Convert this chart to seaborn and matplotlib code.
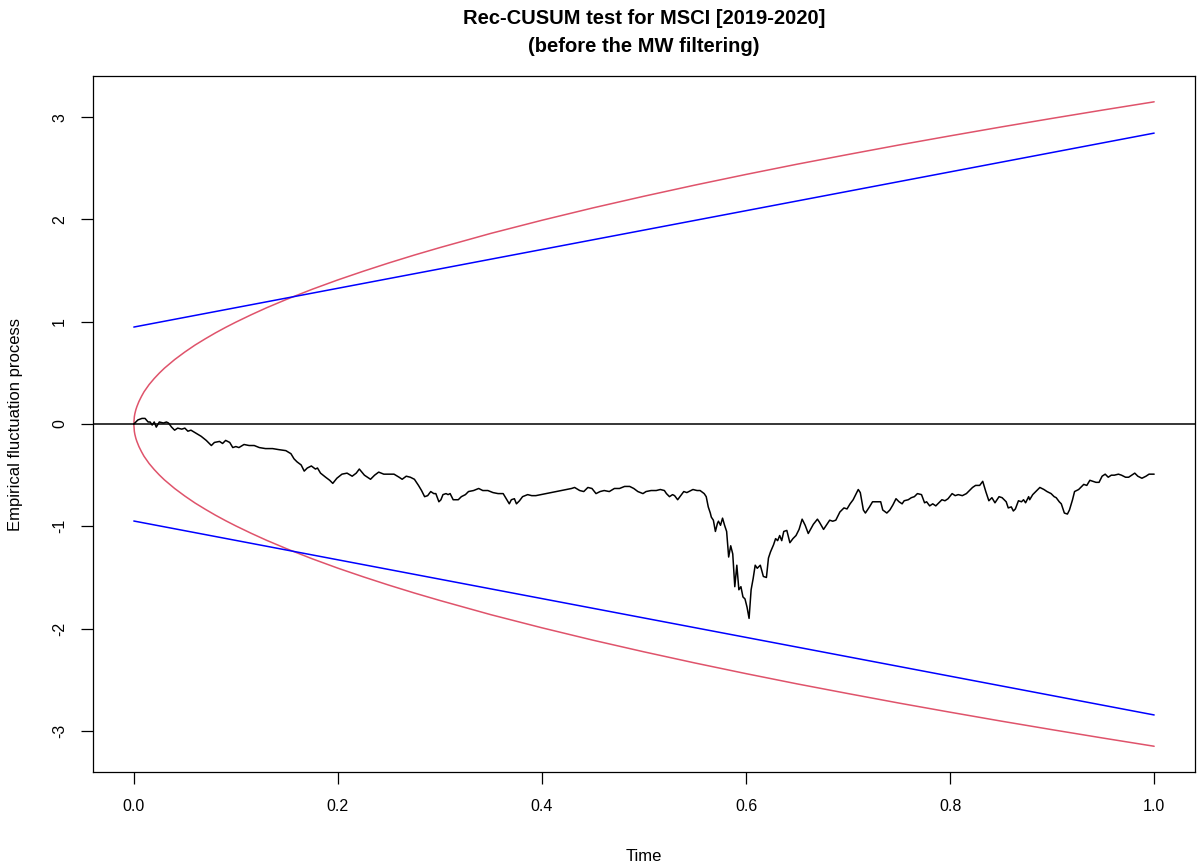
import numpy as np
import pandas as pd
import seaborn as sns
import matplotlib
matplotlib.use("Agg")
import matplotlib.pyplot as plt

# Empirical fluctuation process
time = [0.000, 0.004, 0.008, 0.011, 0.014, 0.016, 0.018, 0.020, 0.022, 0.025,
        0.029, 0.032, 0.034, 0.037, 0.040, 0.043, 0.047, 0.050, 0.053, 0.056,
        0.061, 0.066, 0.071, 0.076, 0.079, 0.084, 0.087, 0.090, 0.094, 0.097,
        0.100, 0.103, 0.108, 0.113, 0.118, 0.123, 0.129, 0.136, 0.142, 0.149,
        0.154, 0.157, 0.160, 0.164, 0.167, 0.170, 0.174, 0.178, 0.180, 0.183,
        0.188, 0.192, 0.195, 0.199, 0.204, 0.209, 0.214, 0.218, 0.221, 0.226,
        0.232, 0.236, 0.240, 0.245, 0.250, 0.255, 0.260, 0.263, 0.267, 0.271,
        0.275, 0.279, 0.282, 0.285, 0.288, 0.291, 0.294, 0.296, 0.299, 0.301,
        0.303, 0.306, 0.308, 0.310, 0.313, 0.318, 0.321, 0.325, 0.328, 0.333,
        0.338, 0.342, 0.347, 0.352, 0.357, 0.362, 0.365, 0.368, 0.370, 0.373,
        0.375, 0.378, 0.381, 0.386, 0.390, 0.394, 0.399, 0.404, 0.409, 0.414,
        0.419, 0.424, 0.429, 0.432, 0.437, 0.441, 0.445, 0.449, 0.453, 0.457,
        0.461, 0.466, 0.471, 0.476, 0.481, 0.486, 0.490, 0.494, 0.499, 0.502,
        0.507, 0.512, 0.516, 0.520, 0.522, 0.525, 0.528, 0.530, 0.533, 0.536,
        0.539, 0.542, 0.546, 0.548, 0.552, 0.555, 0.559, 0.561, 0.563, 0.565,
        0.566, 0.568, 0.570, 0.572, 0.573, 0.575, 0.577, 0.579, 0.581, 0.583,
        0.585, 0.587, 0.589, 0.591, 0.593, 0.595, 0.597, 0.599, 0.601, 0.603,
        0.605, 0.607, 0.609, 0.611, 0.614, 0.617, 0.620, 0.622, 0.624, 0.627,
        0.629, 0.631, 0.633, 0.635, 0.637, 0.640, 0.643, 0.646, 0.649, 0.652,
        0.655, 0.658, 0.661, 0.666, 0.670, 0.672, 0.676, 0.680, 0.682, 0.685,
        0.688, 0.692, 0.696, 0.699, 0.702, 0.705, 0.708, 0.710, 0.712, 0.715,
        0.717, 0.721, 0.724, 0.728, 0.732, 0.734, 0.738, 0.741, 0.744, 0.747,
        0.750, 0.753, 0.755, 0.759, 0.762, 0.765, 0.768, 0.772, 0.775, 0.777,
        0.780, 0.783, 0.786, 0.789, 0.792, 0.795, 0.798, 0.802, 0.805, 0.808,
        0.812, 0.816, 0.819, 0.822, 0.825, 0.829, 0.832, 0.835, 0.838, 0.841,
        0.844, 0.848, 0.851, 0.855, 0.857, 0.860, 0.862, 0.864, 0.867, 0.870,
        0.872, 0.874, 0.877, 0.878, 0.881, 0.885, 0.888, 0.892, 0.895, 0.899,
        0.902, 0.904, 0.907, 0.909, 0.912, 0.915, 0.917, 0.920, 0.922, 0.926,
        0.929, 0.931, 0.934, 0.937, 0.940, 0.943, 0.946, 0.949, 0.952, 0.955,
        0.958, 0.961, 0.965, 0.968, 0.972, 0.975, 0.978, 0.981, 0.984, 0.988,
        0.992, 0.995, 1.000]
process = [0.00, 0.04, 0.055, 0.055, 0.02, 0.02, -0.01, 0.02, -0.03, 0.02,
           0.01, 0.02, 0.01, -0.03, -0.06, -0.04, -0.05, -0.04, -0.07, -0.06,
           -0.09, -0.12, -0.16, -0.21, -0.18, -0.17, -0.19, -0.16, -0.18, -0.23,
           -0.22, -0.23, -0.20, -0.21, -0.21, -0.23, -0.24, -0.24, -0.25, -0.26,
           -0.29, -0.34, -0.37, -0.40, -0.46, -0.43, -0.41, -0.44, -0.43, -0.48,
           -0.52, -0.55, -0.58, -0.53, -0.49, -0.48, -0.51, -0.48, -0.44, -0.50,
           -0.54, -0.50, -0.47, -0.49, -0.49, -0.49, -0.52, -0.54, -0.51, -0.52,
           -0.54, -0.60, -0.65, -0.71, -0.70, -0.66, -0.68, -0.68, -0.76, -0.74,
           -0.69, -0.68, -0.69, -0.68, -0.74, -0.74, -0.71, -0.69, -0.66, -0.65,
           -0.63, -0.65, -0.65, -0.67, -0.68, -0.68, -0.73, -0.78, -0.74, -0.73,
           -0.78, -0.75, -0.71, -0.69, -0.70, -0.70, -0.69, -0.68, -0.67, -0.66,
           -0.65, -0.64, -0.63, -0.62, -0.65, -0.66, -0.62, -0.63, -0.68, -0.66,
           -0.65, -0.66, -0.63, -0.63, -0.61, -0.61, -0.63, -0.66, -0.68, -0.66,
           -0.65, -0.65, -0.64, -0.65, -0.68, -0.71, -0.69, -0.70, -0.74, -0.70,
           -0.66, -0.67, -0.65, -0.64, -0.65, -0.65, -0.68, -0.71, -0.81, -0.87,
           -0.91, -0.94, -1.05, -0.97, -0.95, -0.99, -0.92, -0.99, -1.05, -1.30,
           -1.19, -1.27, -1.59, -1.38, -1.62, -1.59, -1.69, -1.71, -1.79, -1.90,
           -1.62, -1.51, -1.38, -1.41, -1.38, -1.49, -1.50, -1.31, -1.25, -1.18,
           -1.12, -1.14, -1.09, -1.14, -1.05, -1.04, -1.16, -1.12, -1.09, -1.03,
           -0.93, -0.99, -1.07, -0.98, -0.93, -0.96, -1.03, -0.97, -0.94, -0.95,
           -0.94, -0.86, -0.82, -0.83, -0.78, -0.74, -0.68, -0.64, -0.67, -0.84,
           -0.87, -0.81, -0.76, -0.76, -0.76, -0.84, -0.87, -0.84, -0.79, -0.73,
           -0.76, -0.78, -0.75, -0.74, -0.72, -0.71, -0.68, -0.69, -0.77, -0.76,
           -0.80, -0.78, -0.80, -0.77, -0.74, -0.75, -0.73, -0.68, -0.70, -0.69,
           -0.70, -0.68, -0.65, -0.62, -0.60, -0.60, -0.56, -0.66, -0.75, -0.72,
           -0.77, -0.71, -0.72, -0.76, -0.82, -0.81, -0.85, -0.83, -0.75, -0.76,
           -0.74, -0.77, -0.71, -0.74, -0.69, -0.65, -0.62, -0.64, -0.66, -0.68,
           -0.71, -0.72, -0.76, -0.78, -0.87, -0.88, -0.84, -0.74, -0.66, -0.64,
           -0.61, -0.59, -0.60, -0.55, -0.56, -0.57, -0.57, -0.51, -0.49, -0.52,
           -0.50, -0.50, -0.49, -0.50, -0.52, -0.52, -0.50, -0.48, -0.51, -0.53,
           -0.51, -0.49, -0.49]

# Boundaries (upper halves; lower ones are mirrored)
red_t = [0.0, 0.0005, 0.001, 0.002, 0.003, 0.005, 0.0075, 0.01, 0.015, 0.02,
         0.025, 0.03, 0.04, 0.05, 0.06, 0.07, 0.08, 0.09, 0.1, 0.115, 0.13,
         0.15, 0.175, 0.2, 0.225, 0.25, 0.275, 0.3, 0.35, 0.4, 0.45, 0.5,
         0.55, 0.6, 0.65, 0.7, 0.75, 0.8, 0.85, 0.9, 0.95, 1.0]
red_up = [0.0, 0.07, 0.10, 0.14, 0.17, 0.22, 0.27, 0.315, 0.386, 0.445,
          0.498, 0.546, 0.63, 0.704, 0.772, 0.833, 0.891, 0.945, 0.996, 1.068, 1.136,
          1.22, 1.318, 1.409, 1.494, 1.575, 1.652, 1.725, 1.864, 1.992, 2.113, 2.227,
          2.336, 2.44, 2.54, 2.635, 2.728, 2.817, 2.904, 2.988, 3.07, 3.15]
blue_t = [0.0, 1.0]
blue_up = [0.948, 2.844]

sns.set_theme(style="white")
plt.rcParams["font.family"] = ["Liberation Sans", "DejaVu Sans"]

fig = plt.figure(figsize=(12, 8.66), dpi=100)
ax = fig.add_axes([0.0775, 0.1085, 0.9183, 0.8037])

red = "#DF536B"
sns.lineplot(x=red_t, y=red_up, ax=ax, color=red, linewidth=1.1, sort=False, estimator=None)
sns.lineplot(x=red_t, y=[-v for v in red_up], ax=ax, color=red, linewidth=1.1, sort=False, estimator=None)
sns.lineplot(x=blue_t, y=blue_up, ax=ax, color="blue", linewidth=1.1, sort=False, estimator=None)
sns.lineplot(x=blue_t, y=[-v for v in blue_up], ax=ax, color="blue", linewidth=1.1, sort=False, estimator=None)
ax.axhline(0, color="black", linewidth=1.1)
sns.lineplot(x=time, y=process, ax=ax, color="black", linewidth=1.1, sort=False, estimator=None)

ax.set_xlim(-0.04, 1.04)
ax.set_ylim(-3.402, 3.402)
ax.set_xticks([0.0, 0.2, 0.4, 0.6, 0.8, 1.0])
ax.set_xticklabels(["0.0", "0.2", "0.4", "0.6", "0.8", "1.0"])
ax.set_yticks([-3, -2, -1, 0, 1, 2, 3])
ax.set_yticklabels(["-3", "-2", "-1", "0", "1", "2", "3"], rotation=90, va="center")
ax.tick_params(axis="both", direction="out", length=8.6, width=0.9, color="black",
               labelsize=11.5, labelcolor="black", bottom=True, left=True)
ax.tick_params(axis="x", pad=11)
ax.tick_params(axis="y", pad=10)
for s in ax.spines.values():
    s.set_color("black")
    s.set_linewidth(0.9)

ax.set_xlabel("Time", fontsize=12, labelpad=25, color="black")
ax.set_ylabel("Empirical fluctuation process", fontsize=12, labelpad=21, color="black")
ax.set_title("Rec-CUSUM test for MSCI [2019-2020]\n(before the MW filtering)",
             fontsize=14.5, fontweight="bold", pad=17, linespacing=1.62, color="black")

fig.savefig("out.png", dpi=100, facecolor="white")
